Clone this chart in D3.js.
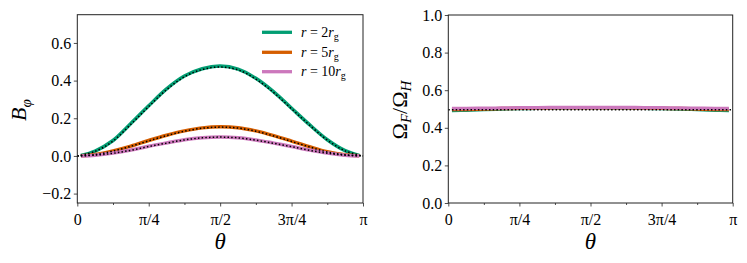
<!DOCTYPE html>
<html>
<head>
<meta charset="utf-8">
<script src="https://cdn.jsdelivr.net/npm/d3@7"></script>
<style>
body { margin: 0; background: #fff; }
text { font-family: "Liberation Serif", "DejaVu Serif", serif; fill: #000; }
</style>
</head>
<body>
<script>
// theta values of the simulated profiles and of the analytic (dotted) curves
const thetaSim = [0.04, 0.196, 0.393, 0.589, 0.785, 0.982, 1.178, 1.374, 1.571, 1.767, 1.963, 2.160, 2.356, 2.553, 2.749, 2.945, 3.10];
const thetaModel = [0, 0.196, 0.393, 0.589, 0.785, 0.982, 1.178, 1.374, 1.571, 1.767, 1.963, 2.160, 2.356, 2.553, 2.749, 2.945, 3.1416];

// B_phi, left panel
const bphiR2 = [0.002, 0.026, 0.082, 0.172, 0.266, 0.356, 0.424, 0.463, 0.477, 0.461, 0.412, 0.340, 0.253, 0.166, 0.086, 0.028, 0.003];
const bphiR5 = [0.001, 0.008, 0.027, 0.052, 0.082, 0.110, 0.133, 0.149, 0.155, 0.150, 0.133, 0.108, 0.079, 0.049, 0.022, 0.006, 0.001];
const bphiR10 = [0.000, 0.004, 0.015, 0.031, 0.051, 0.069, 0.086, 0.097, 0.101, 0.097, 0.085, 0.068, 0.050, 0.031, 0.015, 0.004, 0.000];
const bphiModelR2 = [0, 0.024, 0.079, 0.168, 0.262, 0.352, 0.420, 0.459, 0.472, 0.457, 0.408, 0.336, 0.250, 0.164, 0.084, 0.027, 0];
const bphiModelR5 = [0, 0.007, 0.026, 0.051, 0.080, 0.108, 0.131, 0.147, 0.153, 0.148, 0.131, 0.106, 0.077, 0.048, 0.021, 0.006, 0];
const bphiModelR10 = [0, 0.004, 0.014, 0.030, 0.050, 0.068, 0.085, 0.096, 0.100, 0.096, 0.084, 0.067, 0.049, 0.030, 0.014, 0.004, 0];

// Omega_F / Omega_H, right panel
const omegaR2 = [0.492, 0.494, 0.497, 0.500, 0.502, 0.504, 0.505, 0.506, 0.506, 0.506, 0.505, 0.504, 0.502, 0.500, 0.497, 0.494, 0.492];
const omegaR5 = [0.497, 0.498, 0.500, 0.502, 0.504, 0.505, 0.506, 0.507, 0.507, 0.507, 0.506, 0.505, 0.504, 0.502, 0.500, 0.498, 0.497];
const omegaR10 = [0.503, 0.503, 0.504, 0.505, 0.506, 0.507, 0.508, 0.508, 0.508, 0.508, 0.508, 0.507, 0.506, 0.505, 0.504, 0.503, 0.503];
const thetaOmegaModel = [0, 3.1416];
const omegaModel = [0.496, 0.496];

const radii = ["2", "5", "10"];
const colors = ["#029e73", "#d55e00", "#cc78bc"];
const xTickLabels = ["0", "π/4", "π/2", "3π/4", "π"];
const yTicksLeft = [-0.2, 0.0, 0.2, 0.4, 0.6];
const yTicksRight = [0.0, 0.2, 0.4, 0.6, 0.8, 1.0];

const xMajor = d3.range(5).map(i => i * Math.PI / 4);
const xMinor = d3.range(1, 8, 2).map(i => i * Math.PI / 8);

const svg = d3.select("body").append("svg")
    .attr("width", 747)
    .attr("height", 263);

function panel(box, yDomain, yTicks) {
    const x = d3.scaleLinear().domain([0, Math.PI]).range([box.x0, box.x1]);
    const y = d3.scaleLinear().domain(yDomain).range([box.y1, box.y0]);
    const g = svg.append("g");

    const ax = g.append("g")
        .attr("transform", `translate(0,${box.y1})`)
        .call(d3.axisBottom(x).tickValues(xMajor)
            .tickFormat((d, i) => xTickLabels[i]).tickSize(3.5).tickPadding(7));
    g.append("g")
        .attr("transform", `translate(0,${box.y1})`)
        .call(d3.axisBottom(x).tickValues(xMinor).tickFormat("").tickSize(2));
    const ay = g.append("g")
        .attr("transform", `translate(${box.x0},0)`)
        .call(d3.axisLeft(y).tickValues(yTicks)
            .tickFormat(d => d3.format(".1f")(d).replace("-", "−")).tickSize(3.5).tickPadding(2.5));

    g.selectAll(".domain").remove();
    g.selectAll(".tick line").attr("stroke", "#222").attr("stroke-width", 0.8);
    g.selectAll(".tick text").attr("font-size", 16).attr("font-family", "Liberation Serif").attr("fill", "#000");

    return { g, x, y };
}

function frame(p, box) {
    p.g.append("rect")
        .attr("x", box.x0).attr("y", box.y0)
        .attr("width", box.x1 - box.x0).attr("height", box.y1 - box.y0)
        .attr("fill", "none").attr("stroke", "#222").attr("stroke-width", 1);
}

function draw(p, xs, ys, color, width, dash) {
    const line = d3.line()
        .x((d, i) => p.x(xs[i]))
        .y(d => p.y(d))
        .curve(d3.curveCatmullRom.alpha(0.5));
    const path = p.g.append("path")
        .datum(ys)
        .attr("d", line)
        .attr("fill", "none")
        .attr("stroke", color)
        .attr("stroke-width", width);
    if (dash) path.attr("stroke-dasharray", dash);
}

// left panel
const boxL = { x0: 77.3, x1: 363, y0: 14.7, y1: 203 };
const left = panel(boxL, [-0.25, 0.75], yTicksLeft);
[bphiR2, bphiR5, bphiR10].forEach((s, i) => draw(left, thetaSim, s, colors[i], 3.5));
[bphiModelR2, bphiModelR5, bphiModelR10].forEach(s => draw(left, thetaModel, s, "#000", 1.5, "1.5,2.2"));
frame(left, boxL);

// right panel
const boxR = { x0: 448.3, x1: 732.7, y0: 15, y1: 203 };
const right = panel(boxR, [0, 1], yTicksRight);
[omegaR2, omegaR5, omegaR10].forEach((s, i) => draw(right, thetaSim, s, colors[i], 3.5));
draw(right, thetaOmegaModel, omegaModel, "#000", 1.5, "1.5,2.2");
frame(right, boxR);

// axis labels
[boxL, boxR].forEach(b => {
    svg.append("text")
        .attr("x", (b.x0 + b.x1) / 2).attr("y", 249)
        .attr("text-anchor", "middle")
        .attr("font-size", 23).attr("font-style", "italic")
        .text("θ");
});

const yl = svg.append("text")
    .attr("transform", "translate(26,110) rotate(-90)")
    .attr("text-anchor", "middle")
    .attr("font-size", 22);
yl.append("tspan").attr("font-style", "italic").text("B");
yl.append("tspan").attr("font-style", "italic").attr("font-size", 15).attr("dy", 5).text("φ");

const yr = svg.append("text")
    .attr("transform", "translate(407,110) rotate(-90)")
    .attr("text-anchor", "middle")
    .attr("font-size", 22);
yr.append("tspan").text("Ω");
yr.append("tspan").attr("font-style", "italic").attr("font-size", 15).attr("dy", 4).text("F");
yr.append("tspan").attr("dy", -4).text("/Ω");
yr.append("tspan").attr("font-style", "italic").attr("font-size", 15).attr("dy", 4).text("H");

// legend
const legend = svg.append("g");
const rowY = [32.3, 52.3, 71.7];
radii.forEach((r, i) => {
    legend.append("line")
        .attr("x1", 262).attr("x2", 292)
        .attr("y1", rowY[i]).attr("y2", rowY[i])
        .attr("stroke", colors[i]).attr("stroke-width", 3.3);
    const t = legend.append("text")
        .attr("x", 301).attr("y", rowY[i] + 4.5)
        .attr("font-size", 14);
    t.append("tspan").attr("font-style", "italic").text("r");
    t.append("tspan").text(" = " + r);
    t.append("tspan").attr("font-style", "italic").text("r");
    t.append("tspan").attr("font-size", 10).attr("dy", 3).text("g");
});
</script>
</body>
</html>
